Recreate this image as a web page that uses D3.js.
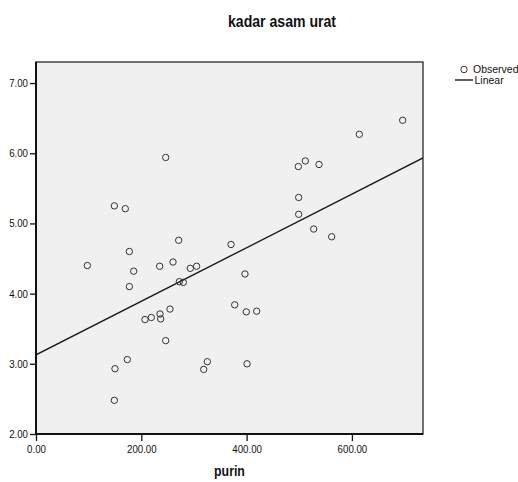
<!DOCTYPE html>
<html>
<head>
<meta charset="utf-8">
<script src="https://cdn.jsdelivr.net/npm/d3@7"></script>
<style>
	body { margin: 0; background: #fff; }
	svg text { font-family: "Liberation Sans", Arial, sans-serif; fill: #111; }
</style>
</head>
<body>
<div id="chart"></div>
<script>
//purin vs kadar asam urat
var purin = [97.5, 148.8, 169.6, 246.3, 271, 177.3, 185.5, 234.9, 260.2, 293,
	305.1, 370.4, 396.9, 177.3, 272.2, 279.8, 207, 219, 235.5, 236.8,
	254.5, 377.4, 399.4, 419.1, 246.3, 173.4, 150, 325.4, 318.5, 400.8,
	148.8, 696.4, 614, 498.2, 511.5, 537.5, 498.9, 498.9, 527.4, 561.6];
var asamUrat = [4.40, 5.25, 5.21, 5.94, 4.76, 4.60, 4.32, 4.39, 4.45, 4.36,
	4.39, 4.70, 4.28, 4.10, 4.17, 4.16, 3.63, 3.66, 3.71, 3.64,
	3.78, 3.84, 3.74, 3.75, 3.33, 3.06, 2.93, 3.03, 2.92, 3.00,
	2.48, 6.47, 6.27, 5.81, 5.89, 5.84, 5.37, 5.13, 4.92, 4.81];
var xTicks = [0, 200, 400, 600];
var yTicks = [2, 3, 4, 5, 6, 7];
var legendLabels = ["Observed", "Linear"];

var W = 518, H = 482;
var margin = {top: 62, right: 95, bottom: 48, left: 36};

var svg = d3.select("#chart").append("svg")
	.attr("width", W)
	.attr("height", H);

var x = d3.scaleLinear()
	.domain([0, 735])
	.range([margin.left, W - margin.right]);
var y = d3.scaleLinear()
	.domain([2, 7.3])
	.range([H - margin.bottom, margin.top]);

//plot background + frame
svg.append("rect")
	.attr("x", x(0))
	.attr("y", y(7.3))
	.attr("width", x(735) - x(0))
	.attr("height", y(2) - y(7.3))
	.attr("fill", "#f0f0f0")
	.attr("stroke", "#444")
	.attr("stroke-width", 1.5);

svg.append("clipPath").attr("id", "plotclip")
	.append("rect")
	.attr("x", x(0)).attr("y", y(7.3))
	.attr("width", x(735) - x(0)).attr("height", y(2) - y(7.3));

//least squares fit
var mx = d3.mean(purin), my = d3.mean(asamUrat);
var sxy = 0, sxx = 0;
for (var i = 0; i < purin.length; i++) {
	sxy += (purin[i] - mx) * (asamUrat[i] - my);
	sxx += (purin[i] - mx) * (purin[i] - mx);
}
var slope = sxy / sxx;
var intercept = my - slope * mx;

svg.append("line")
	.attr("clip-path", "url(#plotclip)")
	.attr("x1", x(0)).attr("y1", y(intercept))
	.attr("x2", x(735)).attr("y2", y(intercept + slope * 735))
	.attr("stroke", "#1a1a1a")
	.attr("stroke-width", 1.4);

svg.append("g").selectAll("circle")
	.data(purin)
	.enter().append("circle")
	.attr("cx", function(d) { return x(d); })
	.attr("cy", function(d, i) { return y(asamUrat[i]); })
	.attr("r", 3.2)
	.attr("fill", "none")
	.attr("stroke", "#333")
	.attr("stroke-width", 1);

//axes
var xAxis = d3.axisBottom(x)
	.tickValues(xTicks)
	.tickFormat(d3.format(".2f"))
	.tickSize(7)
	.tickPadding(4);
var yAxis = d3.axisLeft(y)
	.tickValues(yTicks)
	.tickFormat(d3.format(".2f"))
	.tickSize(6)
	.tickPadding(2);

var gx = svg.append("g")
	.attr("transform", "translate(0," + y(2) + ")")
	.call(xAxis);
var gy = svg.append("g")
	.attr("transform", "translate(" + x(0) + ",0)")
	.call(yAxis);
[gx, gy].forEach(function(g) {
	g.select(".domain").remove();
	g.selectAll(".tick line").attr("stroke", "#111").attr("stroke-width", 1.3);
	g.selectAll(".tick text").attr("font-size", 11).attr("fill", "#222")
		.attr("class", "squeeze")
		.style("font-family", '"Liberation Sans", Arial, sans-serif');
});

svg.append("line")
	.attr("x1", x(0)).attr("x2", x(0))
	.attr("y1", y(7.3)).attr("y2", y(2))
	.attr("stroke", "#111").attr("stroke-width", 2);
svg.append("line")
	.attr("x1", x(0)).attr("x2", x(735))
	.attr("y1", y(2)).attr("y2", y(2))
	.attr("stroke", "#111").attr("stroke-width", 2);

//title and axis label
svg.append("text")
	.attr("class", "squeeze")
	.attr("x", 282)
	.attr("y", 27)
	.attr("text-anchor", "middle")
	.attr("font-size", 16)
	.attr("font-weight", "bold")
	.text("kadar asam urat");

svg.append("text")
	.attr("class", "squeeze")
	.attr("x", (x(0) + x(735)) / 2)
	.attr("y", 476)
	.attr("text-anchor", "middle")
	.attr("font-size", 14)
	.attr("font-weight", "bold")
	.text("purin");

//legend (runs off the right edge like the original)
var leg = svg.append("g");
leg.append("circle")
	.attr("cx", 464).attr("cy", 69.5).attr("r", 3.2)
	.attr("fill", "none").attr("stroke", "#333").attr("stroke-width", 1);
leg.append("line")
	.attr("x1", 455).attr("x2", 473)
	.attr("y1", 80).attr("y2", 80)
	.attr("stroke", "#1a1a1a").attr("stroke-width", 1.4);
leg.selectAll("text")
	.data(legendLabels)
	.enter().append("text")
	.attr("x", function(d, i) { return i == 0 ? 473 : 474.5; })
	.attr("y", function(d, i) { return i == 0 ? 69.5 : 80; })
	.attr("dy", "0.35em")
	.attr("font-size", 10.5)
	.text(function(d) { return d; });

//the reference text is a little narrow, squeeze those labels
svg.selectAll("text.squeeze").each(function() {
	var len = this.getComputedTextLength();
	d3.select(this)
		.attr("textLength", len * 0.88)
		.attr("lengthAdjust", "spacingAndGlyphs");
});
</script>
</body>
</html>
